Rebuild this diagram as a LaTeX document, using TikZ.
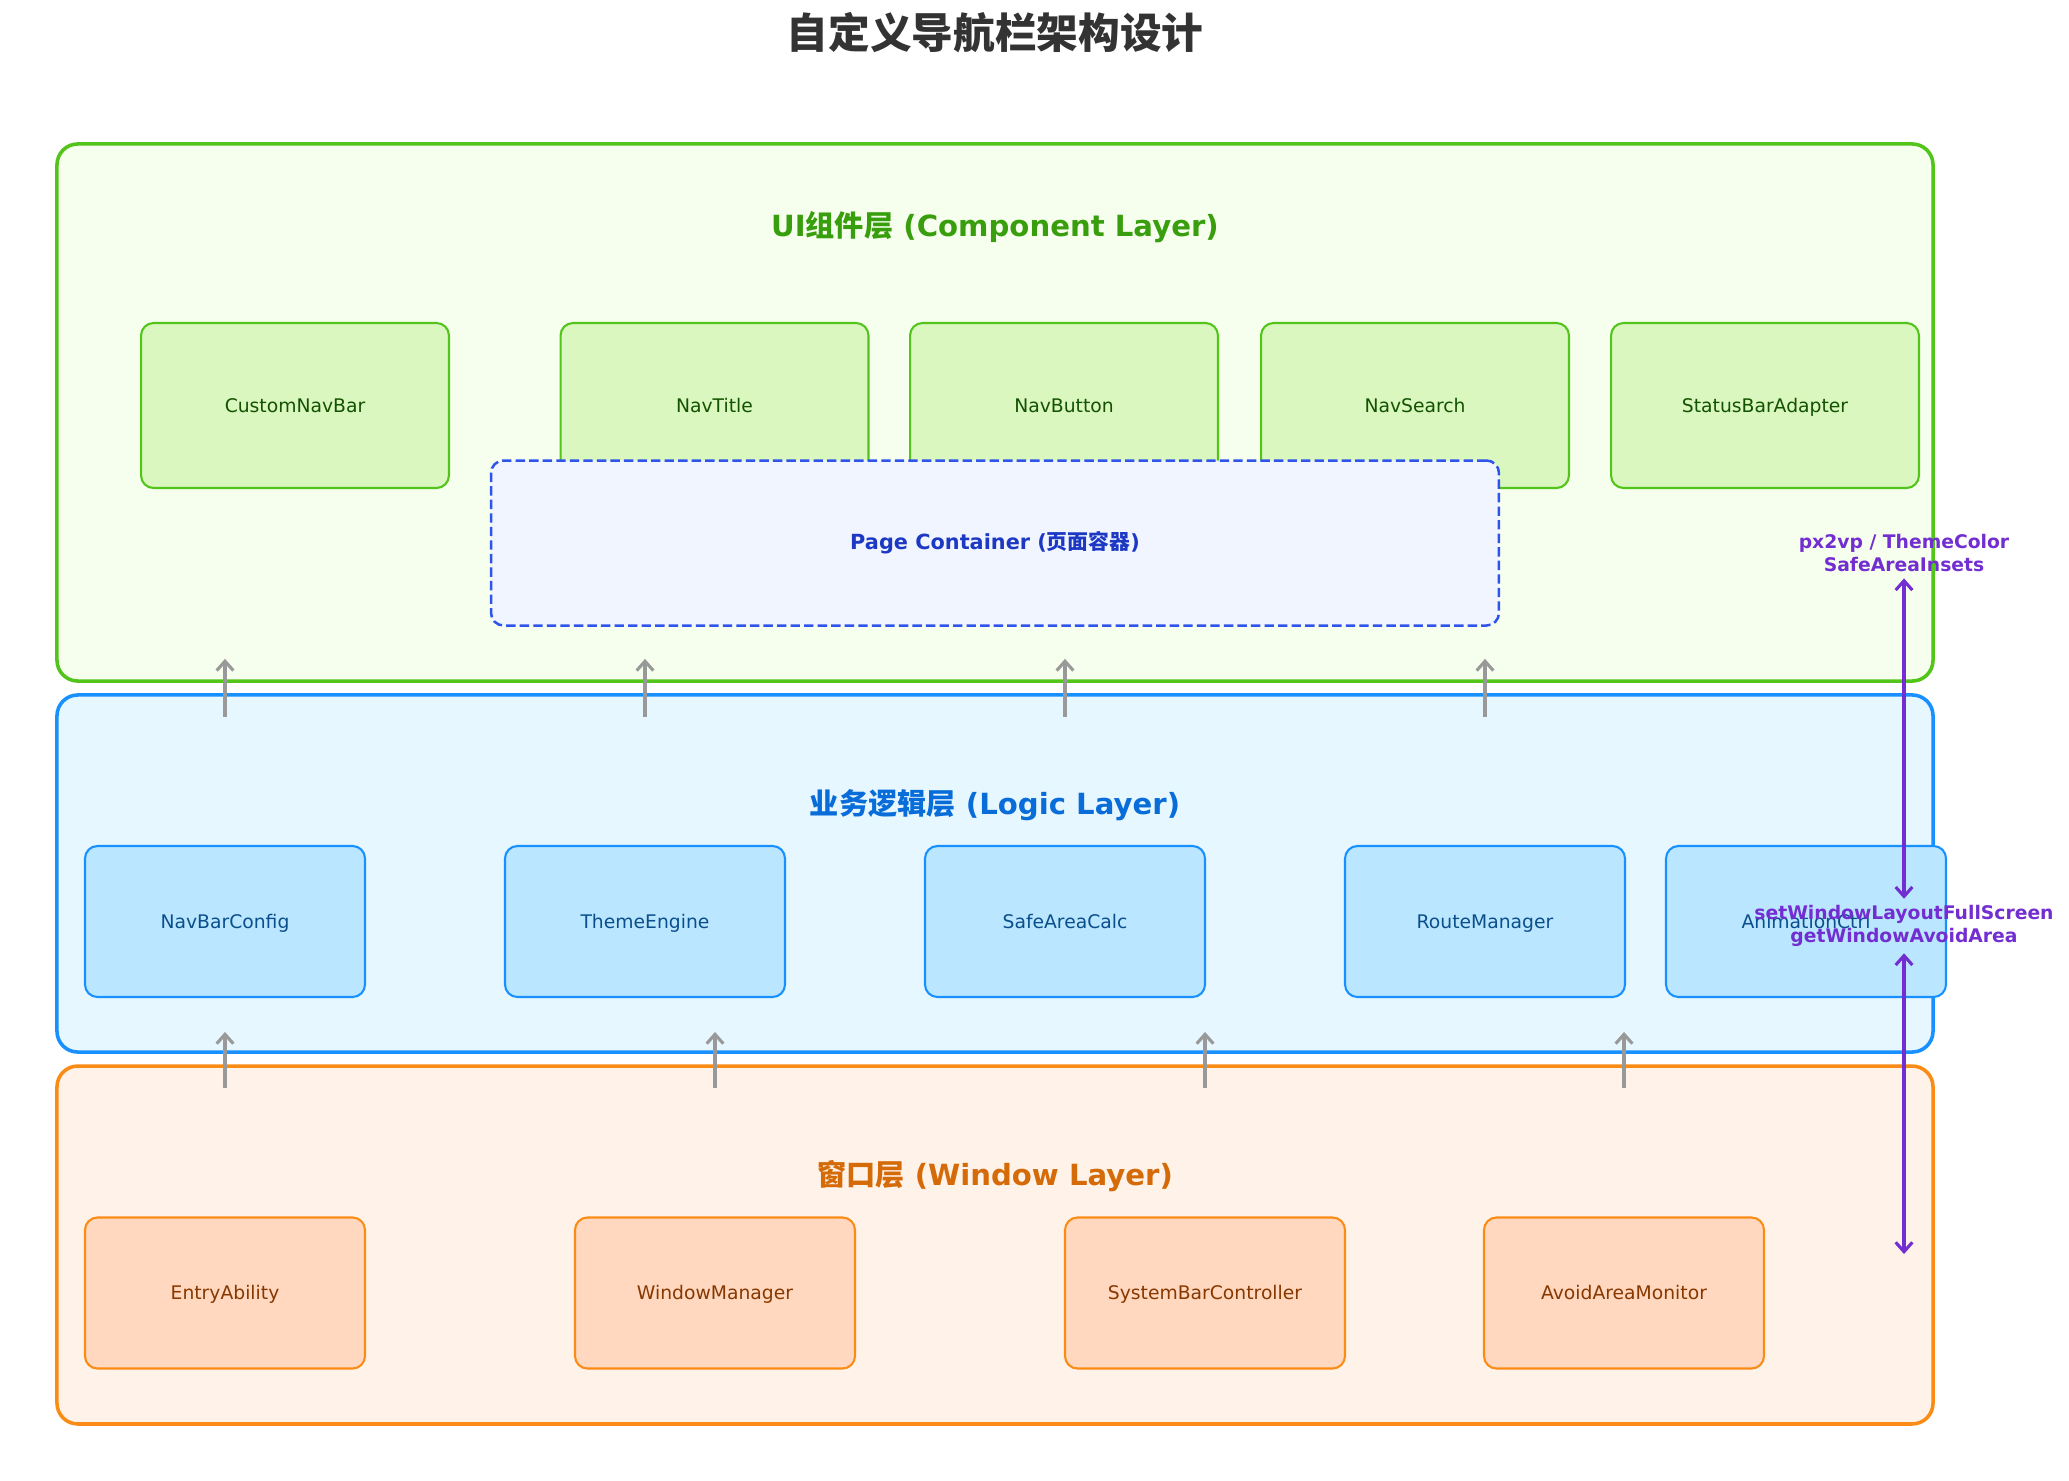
\documentclass[tikz,border=0pt]{standalone}
\usepackage{fontspec}
\setmainfont{DejaVu Sans}
\newfontfamily\cjk{Noto Sans CJK SC}
\usetikzlibrary{arrows.meta}

\definecolor{uiline}{HTML}{52C41A}
\definecolor{uifill}{HTML}{F6FFED}
\definecolor{uiboxfill}{HTML}{D9F7BE}
\definecolor{uitext}{HTML}{135200}
\definecolor{uititle}{HTML}{389E0D}
\definecolor{logicline}{HTML}{1890FF}
\definecolor{logicfill}{HTML}{E6F7FF}
\definecolor{logicboxfill}{HTML}{BAE7FF}
\definecolor{logictext}{HTML}{0A4F8C}
\definecolor{logictitle}{HTML}{096DD9}
\definecolor{winline}{HTML}{FA8C16}
\definecolor{winfill}{HTML}{FFF2E8}
\definecolor{winboxfill}{HTML}{FFD8BF}
\definecolor{wintext}{HTML}{873800}
\definecolor{wintitle}{HTML}{D46B08}
\definecolor{pageline}{HTML}{2F54EB}
\definecolor{pagefill}{HTML}{F0F5FF}
\definecolor{pagetext}{HTML}{1D39C4}
\definecolor{syncpurple}{HTML}{722ED1}
\definecolor{flowgray}{HTML}{999999}

\tikzset{
    layer/.style={draw, rounded corners=10pt, line width=1.7pt, minimum width=900.5pt},
    uilayer/.style={layer, draw=uiline, fill=uifill, minimum height=257.8pt},
    logiclayer/.style={layer, draw=logicline, fill=logicfill, minimum height=171.4pt},
    windowlayer/.style={layer, draw=winline, fill=winfill, minimum height=171.8pt},
    layertitle/.style={font=\bfseries\fontsize{14}{17}\selectfont},
    part/.style={draw, rounded corners=6pt, line width=1pt, text height=1.6ex, text depth=.4ex,
        font=\fontsize{9}{11}\selectfont},
    uipart/.style={part, draw=uiline, fill=uiboxfill, text=uitext, minimum width=147.8pt, minimum height=79.2pt},
    logicpart/.style={part, draw=logicline, fill=logicboxfill, text=logictext, minimum width=134.4pt, minimum height=72.5pt},
    winpart/.style={part, draw=winline, fill=winboxfill, text=wintext, minimum width=134.4pt, minimum height=72.5pt},
    flow/.style={draw=flowgray, line width=1.5pt, -{Straight Barb[length=4.5pt, width=8pt]}},
    syncline/.style={draw=syncpurple, line width=1.5pt,
        {Straight Barb[length=4.5pt, width=8pt]}-{Straight Barb[length=4.5pt, width=8pt]}},
    synclabel/.style={align=center, inner sep=3pt, text=syncpurple, font=\bfseries\fontsize{9}{11}\selectfont}
}

\begin{document}
\begin{tikzpicture}[x=0.48pt, y=-0.48pt]
    \useasboundingbox (0,0) rectangle (2069,1480);

    \node[text=black!80, font=\cjk\bfseries\fontsize{20}{24}\selectfont] (title) at (995,33) {自定义导航栏架构设计};

    \node[uilayer] (ui) at (995,412.5) {};
    \node[logiclayer] (logic) at (995,873.5) {};
    \node[windowlayer] (window) at (995,1245) {};

    \node[layertitle, text=uititle] (uiname) at (995,227) {UI{\cjk 组件层} (Component Layer)};
    \node[layertitle, text=logictitle] (logicname) at (995,805) {{\cjk 业务逻辑层} (Logic Layer)};
    \node[layertitle, text=wintitle] (windowname) at (995,1176) {{\cjk 窗口层} (Window Layer)};

    \node[uipart] (customnavbar) at (295,405.5) {CustomNavBar};
    \node[uipart] (navtitle) at (714.5,405.5) {NavTitle};
    \node[uipart] (navbutton) at (1064,405.5) {NavButton};
    \node[uipart] (navsearch) at (1415,405.5) {NavSearch};
    \node[uipart] (statusbaradapter) at (1765,405.5) {StatusBarAdapter};

    \node[draw=pageline, fill=pagefill, text=pagetext, dash pattern=on 4.5pt off 2pt, line width=1.2pt,
        rounded corners=6pt, minimum width=483.8pt, minimum height=79.2pt,
        font=\bfseries\fontsize{10}{12}\selectfont] (page) at (995,543) {Page Container ({\cjk 页面容器})};

    \node[logicpart] (navbarconfig) at (225,921.5) {NavBarConfig};
    \node[logicpart] (themeengine) at (645,921.5) {ThemeEngine};
    \node[logicpart] (safeareacalc) at (1065,921.5) {SafeAreaCalc};
    \node[logicpart] (routemanager) at (1485,921.5) {RouteManager};
    \node[logicpart] (animationctrl) at (1806,921.5) {AnimationCtrl};

    \node[winpart] (entryability) at (225,1293) {EntryAbility};
    \node[winpart] (windowmanager) at (715,1293) {WindowManager};
    \node[winpart] (systembarcontroller) at (1205,1293) {SystemBarController};
    \node[winpart] (avoidareamonitor) at (1624,1293) {AvoidAreaMonitor};

    \draw[flow] ([yshift=-11.5pt]logic.north -| navbarconfig) -- ([yshift=11.5pt]ui.south -| navbarconfig);
    \draw[flow] ([yshift=-11.5pt]logic.north -| themeengine) -- ([yshift=11.5pt]ui.south -| themeengine);
    \draw[flow] ([yshift=-11.5pt]logic.north -| safeareacalc) -- ([yshift=11.5pt]ui.south -| safeareacalc);
    \draw[flow] ([yshift=-11.5pt]logic.north -| routemanager) -- ([yshift=11.5pt]ui.south -| routemanager);

    \draw[flow] ([yshift=-11.5pt]window.north -| entryability) -- ([yshift=10.5pt]logic.south -| entryability);
    \draw[flow] ([yshift=-11.5pt]window.north -| windowmanager) -- ([yshift=10.5pt]logic.south -| windowmanager);
    \draw[flow] ([yshift=-11.5pt]window.north -| systembarcontroller) -- ([yshift=10.5pt]logic.south -| systembarcontroller);
    \draw[flow] ([yshift=-11.5pt]window.north -| avoidareamonitor) -- ([yshift=10.5pt]logic.south -| avoidareamonitor);

    \node[synclabel] (themeapi) at (1904,553) {px2vp / ThemeColor\\SafeAreaInsets};
    \node[synclabel] (windowapi) at (1904,926) {setWindowLayoutFullScreen\\getWindowAvoidArea};
    \coordinate (avoidend) at (1904,1254);

    \draw[syncline] (themeapi) -- (windowapi);
    \draw[syncline] (windowapi) -- (avoidend);
\end{tikzpicture}
\end{document}
